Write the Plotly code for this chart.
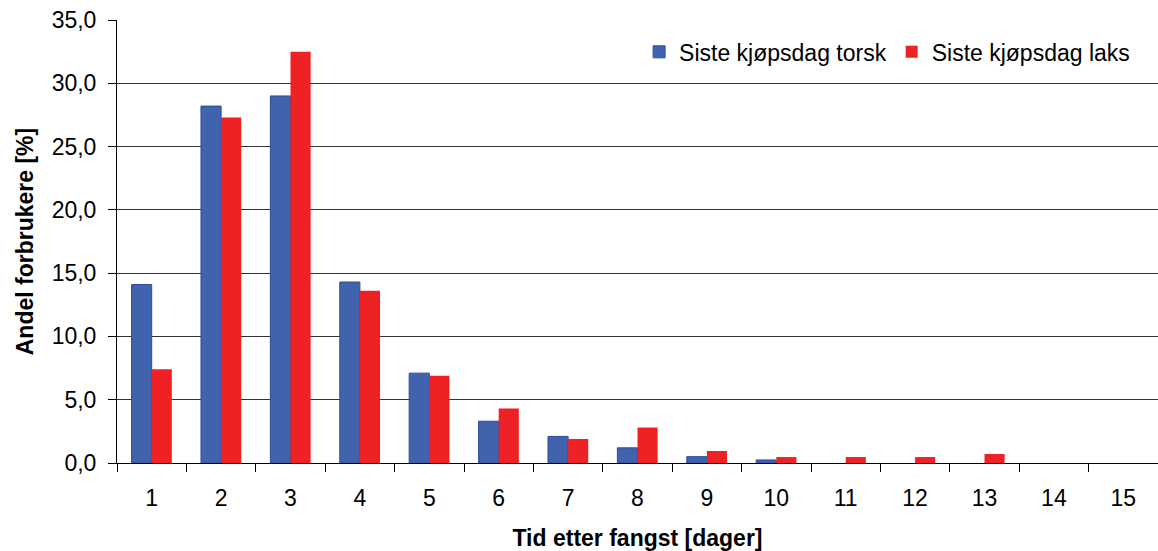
import plotly.graph_objects as go

categories = [str(i) for i in range(1, 16)]
torsk = [14.1, 28.2, 29.0, 14.3, 7.1, 3.3, 2.1, 1.2, 0.5, 0.24, 0, 0, 0, 0, 0]
laks = [7.4, 27.3, 32.5, 13.6, 6.9, 4.3, 1.9, 2.8, 0.95, 0.47, 0.47, 0.47, 0.71, 0, 0]
y_ticks = [0, 5, 10, 15, 20, 25, 30, 35]

FONT = "Liberation Sans, Arial, sans-serif"

fig = go.Figure()
fig.add_trace(go.Bar(x=categories, y=torsk, name="Siste kjøpsdag torsk",
                     marker=dict(color="#4163AE",
                                 line=dict(color="#2E4C9C",
                                           width=[1 if v > 0 else 0 for v in torsk]))))
fig.add_trace(go.Bar(x=categories, y=laks, name="Siste kjøpsdag laks",
                     marker=dict(color="#EE2124", line=dict(color="#EE2124", width=0))))

fig.update_layout(
    width=1158, height=551,
    margin=dict(l=117, r=0, t=20, b=88),
    plot_bgcolor="white", paper_bgcolor="white",
    barmode="group", bargap=0.42, bargroupgap=0,
    separators=",.",
    font=dict(family=FONT, size=23, color="black"),
    legend=dict(orientation="h", x=0.978, xanchor="right", y=0.928, yanchor="middle",
                font=dict(size=23), bgcolor="rgba(0,0,0,0)", itemwidth=30,
                traceorder="normal"),
    xaxis=dict(
        type="category", tickson="boundaries", ticks="outside", ticklen=8,
        tickcolor="black", showline=True, linecolor="black", linewidth=1,
        showgrid=False, automargin=False, ticklabelstandoff=14,
        title=dict(text="<b>Tid etter fangst [dager]</b>", font=dict(size=23), standoff=26),
    ),
    yaxis=dict(
        range=[0, 35], tickvals=y_ticks, tickformat=".1f", ticks="outside", ticklen=8,
        tickcolor="black", showline=True, linecolor="black", linewidth=1,
        showgrid=True, gridcolor="#333333", gridwidth=1, zeroline=False,
        automargin=False, ticklabelstandoff=7,
        title=dict(text="<b>Andel forbrukere [%]</b>", font=dict(size=23), standoff=11),
    ),
)

fig.write_html("out.html", config={"displayModeBar": False},
               post_script="document.body.style.margin='0';document.body.style.overflow='hidden';")
